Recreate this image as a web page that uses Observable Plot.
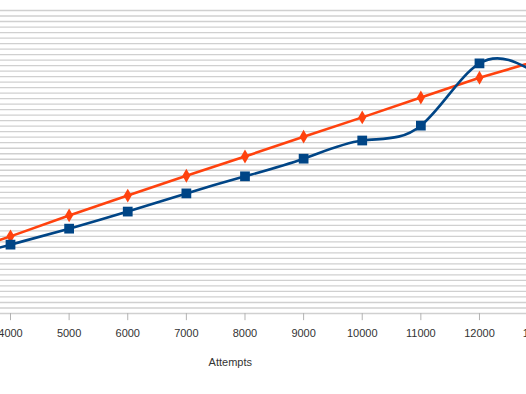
<!DOCTYPE html>
<html><head><meta charset="utf-8">
<script src="https://cdn.jsdelivr.net/npm/d3@7"></script>
<script src="https://cdn.jsdelivr.net/npm/@observablehq/plot@0.6"></script>
<style>body{margin:0;background:#fff} svg{display:block}</style>
</head><body><div id="c"></div>
<script>
const attempts = [3000, 4000, 5000, 6000, 7000, 8000, 9000, 10000, 11000, 12000, 13000];
const seriesBlue = [9.6, 12.5, 15.4, 18.5, 21.8, 24.9, 28.1, 31.4, 34.1, 45.4, 43.5];
const seriesOrange = [10.4, 14.0, 17.8, 21.4, 25.0, 28.5, 32.1, 35.6, 39.2, 42.8, 45.9];
const xTicks = [4000, 5000, 6000, 7000, 8000, 9000, 10000, 11000, 12000, 13000];
const yGrid = d3.range(0, 56);
const xLabel = "Attempts";

const blue = attempts.map((a, i) => ({a, v: seriesBlue[i]}));
const orange = attempts.map((a, i) => ({a, v: seriesOrange[i]}));

const chart = Plot.plot({
  width: 526, height: 394,
  marginLeft: 10, marginRight: -11.6, marginTop: 10, marginBottom: 81,
  style: {fontFamily: "Liberation Sans, Arial, sans-serif", background: "#fff", overflow: "hidden"},
  x: {domain: [4000, 13000], axis: null},
  y: {domain: [0, 55], axis: null},
  marks: [
    Plot.ruleY(yGrid, {y: d => d, stroke: "#d0d0d0", strokeWidth: 1.3, insetLeft: -10}),
    Plot.ruleX(xTicks, {x: d => d, y1: 0, y2: -1.3, stroke: "#b3b3b3"}),
    Plot.text(xTicks, {x: d => d, y: 0, dy: 20, text: d => String(d), fontSize: 11, fill: "#333"}),
    Plot.text([xLabel], {frameAnchor: "bottom", dx: -44, dy: 52, text: d => d, fontSize: 11, fill: "#333"}),
    Plot.line(orange, {x: "a", y: "v", stroke: "#ff420e", strokeWidth: 2.6}),
    Plot.dot(orange, {x: "a", y: "v", symbol: "diamond", r: 4.2, fill: "#ff420e"}),
    Plot.line(blue, {x: "a", y: "v", curve: "natural", stroke: "#004586", strokeWidth: 2.6}),
    Plot.dot(blue, {x: "a", y: "v", symbol: "square", r: 5.5, fill: "#004586"})
  ]
});
document.getElementById("c").appendChild(chart);
</script>
</body></html>
